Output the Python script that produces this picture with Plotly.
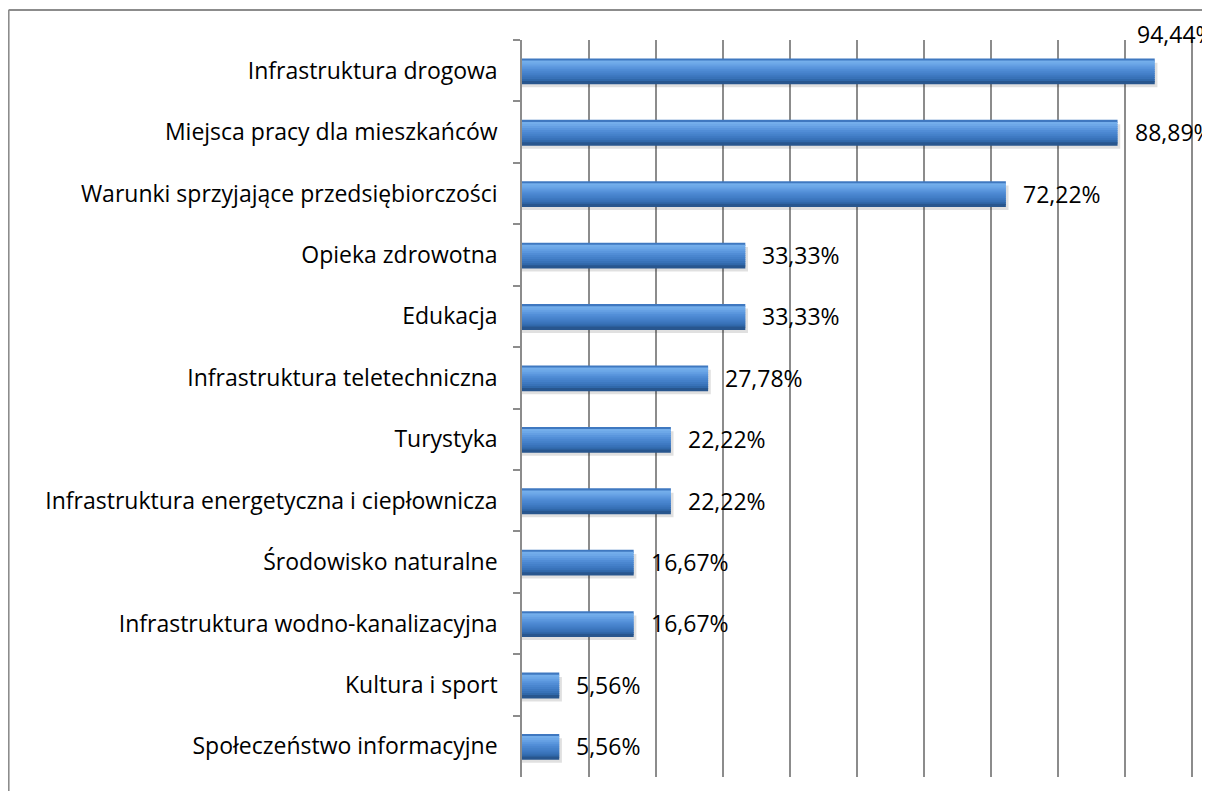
import plotly.graph_objects as go

categories = [
    "Infrastruktura drogowa",
    "Miejsca pracy dla mieszkańców",
    "Warunki sprzyjające przedsiębiorczości",
    "Opieka zdrowotna",
    "Edukacja",
    "Infrastruktura teletechniczna",
    "Turystyka",
    "Infrastruktura energetyczna i ciepłownicza",
    "Środowisko naturalne",
    "Infrastruktura wodno-kanalizacyjna",
    "Kultura i sport",
    "Społeczeństwo informacyjne",
]
values = [94.44, 88.89, 72.22, 33.33, 33.33, 27.78, 22.22, 22.22, 16.67, 16.67, 5.56, 5.56]
labels = ["94,44%", "88,89%", "72,22%", "33,33%", "33,33%", "27,78%",
          "22,22%", "22,22%", "16,67%", "16,67%", "5,56%", "5,56%"]

FONT = "Open Sans"
GRID = "#8c8c8c"

# bevel look: stacked thin stripes, light at the top and dark at the bottom
stripe_colors = ["#3f78c0", "#74aeeb", "#6da8e8", "#649fe3", "#5a96dd",
                 "#518dd6", "#4a86cf", "#4480c9", "#3e79c1", "#3872b8",
                 "#3068aa", "#28568e"]
bar_w = 0.4
n = len(stripe_colors)
sw = bar_w / n

fig = go.Figure()

# soft shadow under the bars
fig.add_trace(go.Bar(
    x=[v / 100 + 0.004 for v in values], y=categories, orientation="h",
    width=bar_w, offset=-bar_w / 2 + 0.07,
    marker=dict(color="rgba(0,0,0,0.12)", line=dict(width=0)),
    hoverinfo="skip", showlegend=False,
))

for i, c in enumerate(stripe_colors):
    fig.add_trace(go.Bar(
        x=[v / 100 for v in values], y=categories, orientation="h",
        width=sw * 1.6, offset=-bar_w / 2 + i * sw,
        marker=dict(color=c, line=dict(width=0)),
        hoverinfo="skip", showlegend=False,
    ))

for i, (cat, v, lab) in enumerate(zip(categories, values, labels)):
    if i == 0:
        xs, ys = -20, 37
    else:
        xs, ys = 15, 0
    fig.add_annotation(
        x=v / 100, y=cat, text=lab, showarrow=False,
        xanchor="left", yanchor="middle", xshift=xs, yshift=ys,
        font=dict(family=FONT, size=23, color="#000000"),
    )

# chart frame (only top and left edges are visible in the picture)
fig.add_shape(type="line", xref="paper", yref="paper",
              x0=-0.764, x1=1.1, y0=1.0407, y1=1.0407,
              line=dict(color=GRID, width=2))
fig.add_shape(type="line", xref="paper", yref="paper",
              x0=-0.764, x1=-0.764, y0=1.0407, y1=-0.1,
              line=dict(color=GRID, width=2))

fig.update_layout(
    width=1194, height=783,
    margin=dict(l=514, r=8, t=32, b=14),
    barmode="overlay",
    bargap=0.6,
    plot_bgcolor="white",
    paper_bgcolor="white",
    font=dict(family=FONT, size=23, color="#000000"),
    xaxis=dict(
        range=[0, 1.003], tick0=0, dtick=0.1, showticklabels=False,
        showgrid=True, gridcolor=GRID, gridwidth=1.5,
        zeroline=False, showline=False, ticks="",
    ),
    yaxis=dict(
        categoryorder="array", categoryarray=categories,
        autorange="reversed",
        showline=True, linecolor=GRID, linewidth=1.5,
        ticks="outside", tickson="boundaries", ticklen=7,
        tickcolor=GRID, tickwidth=1.5,
        ticklabelstandoff=18,
        showgrid=False, zeroline=False,
    ),
)

fig.write_html("out.html")
